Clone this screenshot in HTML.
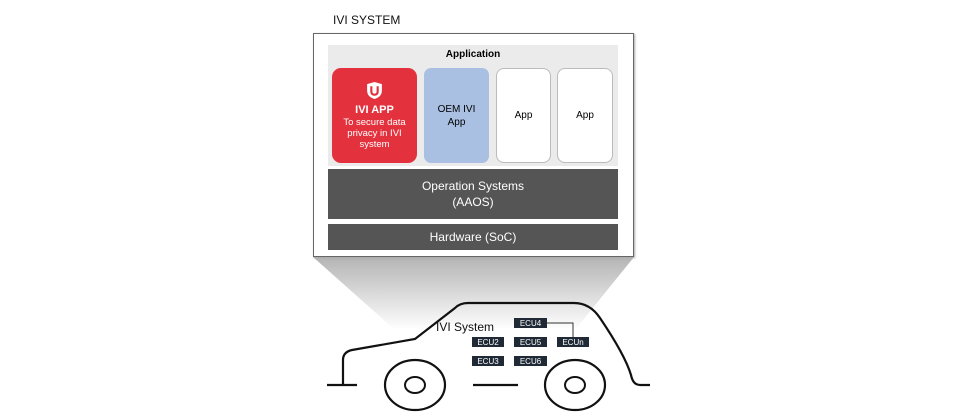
<!DOCTYPE html>
<html><head><style>
body{margin:0;width:960px;height:420px;background:#fff;position:relative;overflow:hidden;font-family:"Liberation Sans",sans-serif}
.a{position:absolute;box-sizing:border-box}
.c{display:flex;flex-direction:column;align-items:center;justify-content:center;text-align:center}
</style></head><body>
<svg class="a" style="left:0;top:0" width="960" height="420">
<defs><linearGradient id="g" x1="0" y1="0" x2="0" y2="1"><stop offset="0" stop-color="#b4b4b4"/><stop offset="1" stop-color="#fff"/></linearGradient></defs>
<polygon points="313,257 634,257 575,330 395,330" fill="url(#g)"/>
<g fill="none" stroke="#111" stroke-width="2.2">
<path d="M327,385 H357 M343,385 V360 Q343,352 352,350 L415,339 L455,308 Q460,303 468,303 L574,303 Q590,303 600,318 Q625,355 631,375 Q633,385 640,385 H650"/>
<path d="M473,385 H518"/>
<ellipse cx="415" cy="385" rx="30" ry="25"/><ellipse cx="415" cy="385" rx="10" ry="8" stroke-width="2"/>
<ellipse cx="575" cy="385" rx="30" ry="25"/><ellipse cx="575" cy="385" rx="10" ry="8" stroke-width="2"/>
</g>
<path d="M547,323 H573 V337" fill="none" stroke="#333" stroke-width="1"/>
</svg>
<div class="a" style="left:333px;top:13px;font-size:12px;color:#111">IVI SYSTEM</div>
<div class="a" style="left:313px;top:33px;width:321px;height:224px;border:1px solid #666;background:#fff;box-shadow:1px 1px 2px #aaa"></div>
<div class="a" style="left:328px;top:45px;width:290px;height:121px;background:#ebebeb"></div>
<div class="a" style="left:328px;top:49px;width:290px;text-align:center;font-size:10px;font-weight:bold">Application</div>
<div class="a c" style="left:332px;top:68px;width:85px;height:95px;background:#e3323e;border-radius:9px;color:#fff;font-size:9.5px;line-height:11px">
<svg width="17" height="19" viewBox="0 0 16 18"><path d="M8,1 L15,3 V9 Q15,15 8,17 Q1,15 1,9 V3Z" fill="#fff"/><path d="M5,5 V10 Q5,13 8,13 Q11,13 11,10 V5" fill="none" stroke="#e3323e" stroke-width="2"/></svg>
<div style="font-weight:bold;font-size:11px;margin-top:4px;line-height:13px">IVI APP</div><div>To secure data<br>privacy in IVI<br>system</div></div>
<div class="a c" style="left:424px;top:68px;width:65px;height:95px;background:#a9c0e3;border-radius:7px;font-size:10px;line-height:13px">OEM IVI<br>App</div>
<div class="a c" style="left:496px;top:68px;width:55px;height:95px;background:#fff;border:1px solid #bbb;border-radius:8px;font-size:10px">App</div>
<div class="a c" style="left:557px;top:68px;width:56px;height:95px;background:#fff;border:1px solid #bbb;border-radius:8px;font-size:10px">App</div>
<div class="a c" style="left:328px;top:169px;width:290px;height:50px;background:#555;color:#fff;font-size:12px;line-height:16px">Operation Systems<br>(AAOS)</div>
<div class="a c" style="left:328px;top:224px;width:290px;height:26px;background:#555;color:#fff;font-size:12px">Hardware (SoC)</div>
<div class="a" style="left:436px;top:320px;font-size:12px;color:#111">IVI System</div>
<div class="a c" style="left:514px;top:318px;width:33px;height:10px;background:#1f2a36;color:#fff;font-size:8px">ECU4</div>
<div class="a c" style="left:472px;top:337px;width:32px;height:10px;background:#1f2a36;color:#fff;font-size:8px">ECU2</div>
<div class="a c" style="left:514px;top:337px;width:33px;height:10px;background:#1f2a36;color:#fff;font-size:8px">ECU5</div>
<div class="a c" style="left:557px;top:337px;width:32px;height:10px;background:#1f2a36;color:#fff;font-size:8px">ECUn</div>
<div class="a c" style="left:472px;top:356px;width:32px;height:10px;background:#1f2a36;color:#fff;font-size:8px">ECU3</div>
<div class="a c" style="left:514px;top:356px;width:33px;height:10px;background:#1f2a36;color:#fff;font-size:8px">ECU6</div>
</body></html>
